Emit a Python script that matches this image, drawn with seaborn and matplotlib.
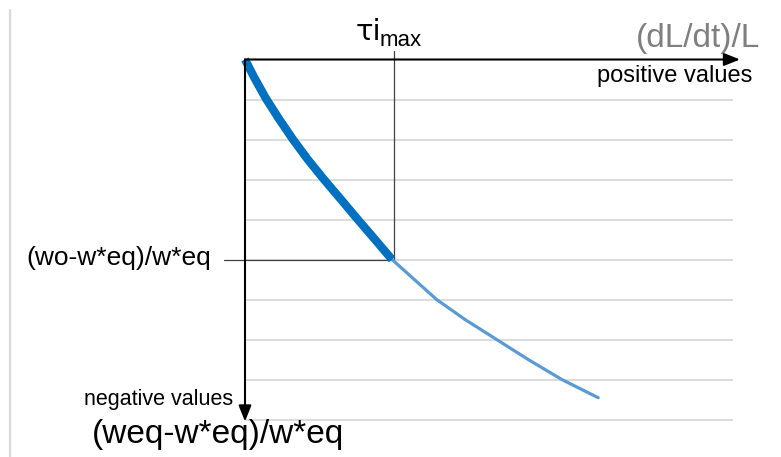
import matplotlib
matplotlib.use("Agg")
import matplotlib.pyplot as plt
from matplotlib.lines import Line2D
import seaborn as sns
import pandas as pd

# ---- data ----
thick_x = [0.0, 0.22, 0.52, 0.84, 1.20, 1.57, 1.975, 2.40, 2.82, 3.25, 3.675]
thick_y = [0.0, -0.43, -0.97, -1.47, -2.0, -2.5, -3.0, -3.5, -4.0, -4.5, -5.0]
thin_x = [3.675, 4.79, 5.5, 6.29, 7.08, 7.92, 8.83]
thin_y = [-5.0, -6.0, -6.5, -7.0, -7.5, -8.0, -8.455]
tau_x = 3.73          # tau_i_max position on the x axis
w0_y = -5.0           # (wo-w*eq)/w*eq level
grid_levels = [-1, -2, -3, -4, -5, -6, -7, -8, -9]
x_max, y_min = 12.2, -9.15
x_arrow, y_arrow = 12.375, -9.05

x_label = "(dL/dt)/L"
y_label = "(weq-w*eq)/w*eq"
pos_label = "positive values"
neg_label = "negative values"
w0_label = "(wo-w*eq)/w*eq"

sns.set_theme(style="white")
plt.rcParams["font.family"] = ["Liberation Sans", "DejaVu Sans"]

W, H = 781, 457
fig = plt.figure(figsize=(W / 100, H / 100), dpi=100)
top_px, bot_px, left_px, right_px = 59.5, 425.5, 245, 733
ax = fig.add_axes([left_px / W, 1 - bot_px / H, (right_px - left_px) / W, (bot_px - top_px) / H])

df_thick = pd.DataFrame({"x": thick_x, "y": thick_y})
df_thin = pd.DataFrame({"x": thin_x, "y": thin_y})

ax.set_xlim(0, x_max)
ax.set_ylim(y_min, 0)
ax.set_yticks(grid_levels)
ax.set_xticks([])
ax.tick_params(left=False, labelleft=False, bottom=False, labelbottom=False)
ax.grid(axis="y", color="#D9D9D9", linewidth=1.3)
ax.grid(axis="x", visible=False)
for s in ax.spines.values():
    s.set_visible(False)

# reference lines
ax.plot([tau_x, tau_x], [w0_y, 0.21], color="#404040", lw=0.9, clip_on=False, zorder=3)
ax.plot([-0.52, tau_x], [w0_y, w0_y], color="#404040", lw=0.9, clip_on=False, zorder=3)

sns.lineplot(data=df_thin, x="x", y="y", ax=ax, color="#5B9BD5", lw=2.3,
             solid_capstyle="round", zorder=4)
sns.lineplot(data=df_thick, x="x", y="y", ax=ax, color="#0070C0", lw=6.0,
             solid_capstyle="butt", solid_joinstyle="round", zorder=5)
for l in ax.lines:
    l.set_clip_on(False)
ax.set_xlabel("")
ax.set_ylabel("")

# axes arrows
arrow = dict(arrowstyle="-|>,head_length=0.4,head_width=0.16", color="black",
             lw=1.5, mutation_scale=24, shrinkA=0, shrinkB=0)
ax.annotate("", xy=(x_arrow, 0), xytext=(0, 0), arrowprops=arrow,
            annotation_clip=False, zorder=6)
ax.annotate("", xy=(0, y_arrow), xytext=(0, 0), arrowprops=arrow,
            annotation_clip=False, zorder=6)

# texts
ax.text(2.775, 0.49, "τi", fontsize=21, ha="left", va="baseline", color="black",
        family=["DejaVu Sans"], clip_on=False)
ax.text(3.375, 0.34, "max", fontsize=16, ha="left", va="baseline", color="black", clip_on=False)
ax.text(12.875, 0.31, x_label, fontsize=24, ha="right", va="baseline", color="#7F7F7F", clip_on=False)
ax.text(12.675, -0.5625, pos_label, fontsize=17, ha="right", va="baseline", color="black", clip_on=False)
ax.text(-5.475, -5.14, w0_label, fontsize=19, ha="left", va="baseline", color="black", clip_on=False)
ax.text(-0.3, -8.64, neg_label, fontsize=15.5, ha="right", va="baseline", color="black", clip_on=False)
ax.text(-3.825, -9.59, y_label, fontsize=24, ha="left", va="baseline", color="black", clip_on=False)

# light frame line at left edge
fig.add_artist(Line2D([9.5 / W, 9.5 / W], [0, 1 - 10 / H], color="#D9D9D9", lw=1.6))

fig.savefig("out.png", dpi=100)
